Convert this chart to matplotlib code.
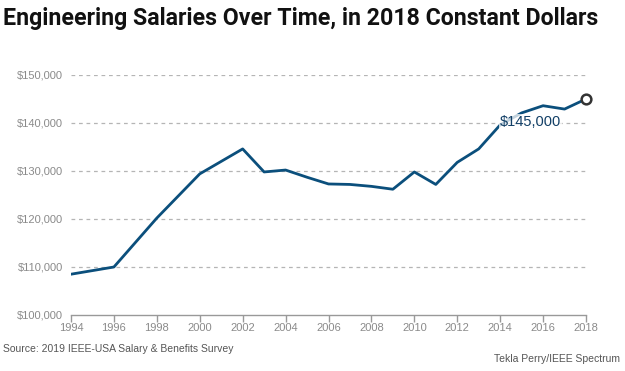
import matplotlib
matplotlib.use('Agg')
import matplotlib.pyplot as plt

# data
years = [1994, 1996, 1998, 2000, 2002, 2003, 2004, 2005, 2006, 2007, 2008,
         2009, 2010, 2011, 2012, 2013, 2014, 2015, 2016, 2017, 2018]
salary = [108500, 110000, 120200, 129400, 134600, 129800, 130200, 128700,
          127300, 127200, 126800, 126200, 129800, 127200, 131800, 134600,
          139600, 142100, 143600, 142900, 145000]
year_ticks = list(range(1994, 2019, 2))
salary_ticks = [100000, 110000, 120000, 130000, 140000, 150000]

line_col = '#0b4f7c'
grey = '#8a8a8a'
body_font = ['Liberation Sans', 'DejaVu Sans']

fig = plt.figure(figsize=(6.25, 3.71), dpi=100)
ax = fig.add_axes([71/625, 56/371, 515/625, 240/371])

ax.plot(years, salary, color=line_col, lw=2, zorder=3)
ax.plot(years[-1], salary[-1], 'o', ms=7, mfc='white', mec='#333333', mew=1.8,
        zorder=5, clip_on=False)

# value label sits over the line with a half-see-through white box
ax.text(2014.0, 140300, '$145,000', fontsize=10.5, color='#123f66', va='center', ha='left',
        family=body_font,
        bbox=dict(facecolor='white', edgecolor='none', alpha=0.75, pad=0.5), zorder=4)

ax.set_xlim(1994, 2018)
ax.set_ylim(100000, 150000)
ax.set_xticks(year_ticks)
ax.set_yticks(salary_ticks)
ax.set_yticklabels(['${:,}'.format(v) for v in salary_ticks])

for v in salary_ticks[1:]:
    ax.axhline(v, color='#b5b5b5', lw=0.9, ls=(0, (3, 3)), zorder=1)

for s in ['top', 'right', 'left']:
    ax.spines[s].set_visible(False)
ax.spines['bottom'].set_color('#999999')
ax.spines['bottom'].set_linewidth(1)

ax.tick_params(axis='x', colors='#999999', length=5, width=1, labelcolor=grey,
               labelsize=8, pad=1)
ax.tick_params(axis='y', length=0, labelcolor=grey, labelsize=8, pad=6)
for lab in ax.get_xticklabels() + ax.get_yticklabels():
    lab.set_family(body_font)

fig.text(3/625, 1 - 18/371, 'Engineering Salaries Over Time, in 2018 Constant Dollars',
         fontsize=16.7, fontweight='bold', color='#111111', va='center', ha='left',
         family=['Roboto', 'DejaVu Sans'])
fig.text(3/625, 1 - 349/371, 'Source: 2019 IEEE-USA Salary & Benefits Survey',
         fontsize=7.5, color='#555555', va='center', ha='left', family=body_font)
fig.text(620/625, 1 - 359/371, 'Tekla Perry/IEEE Spectrum',
         fontsize=7.5, color='#555555', va='center', ha='right', family=body_font)

fig.savefig('out.png', dpi=100)
